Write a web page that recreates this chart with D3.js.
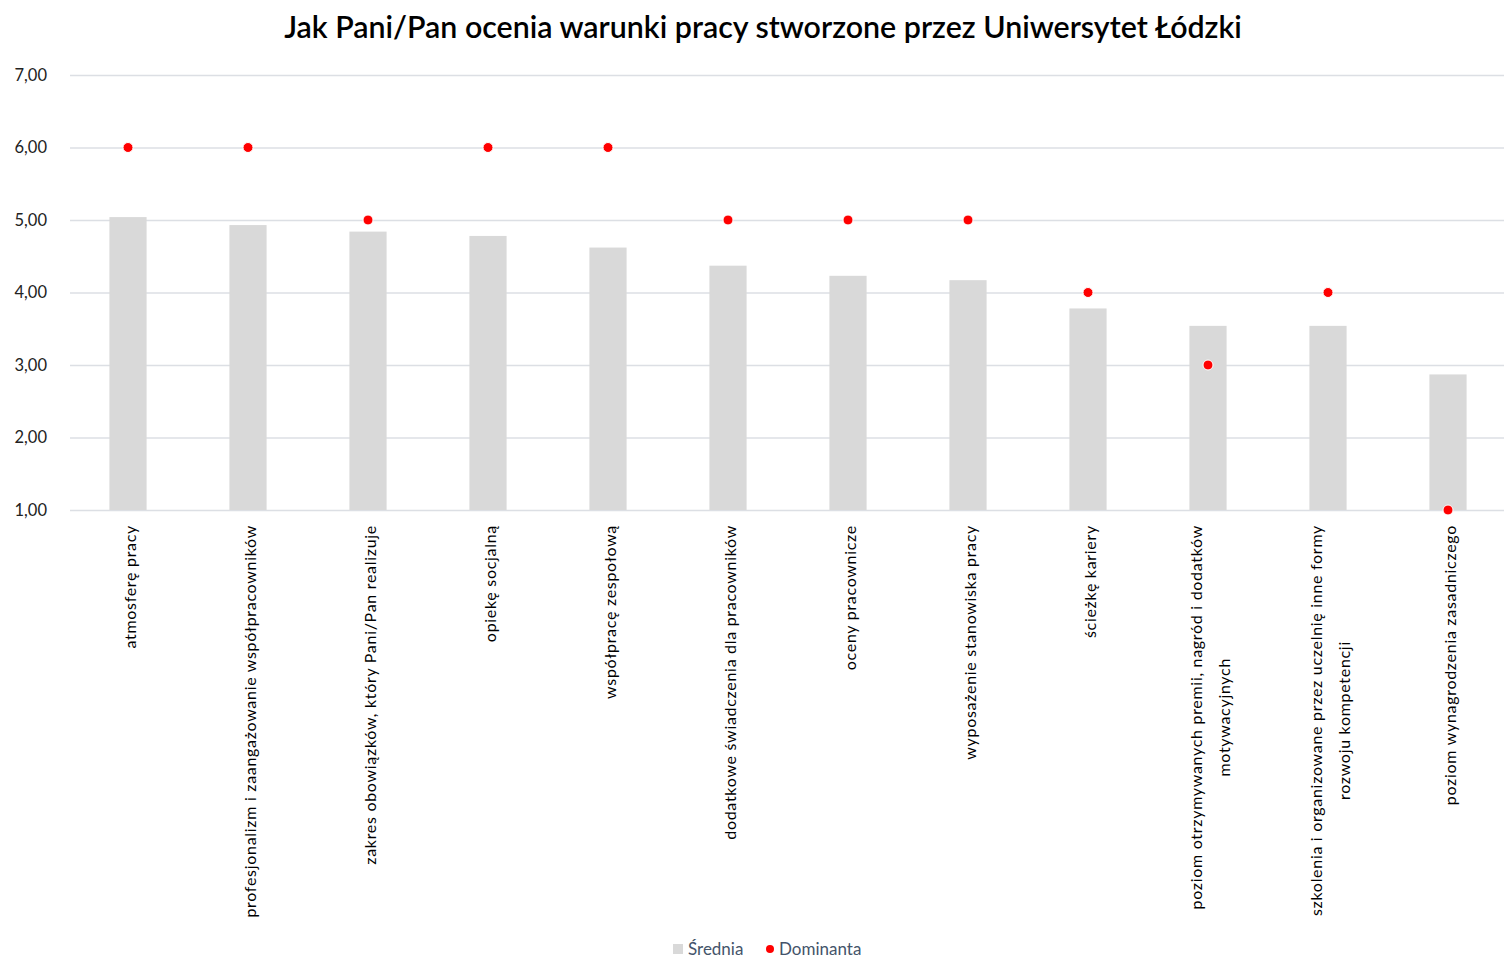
<!DOCTYPE html>
<html><head><meta charset="utf-8">
<script src="https://cdn.jsdelivr.net/npm/d3@7"></script>
<style>
html,body{margin:0;padding:0;background:#fff;}
svg{display:block;font-family:Lato,"Open Sans",sans-serif;}
</style></head>
<body>
<svg id="chart" width="1504" height="959"></svg>
<script>
const title = "Jak Pani/Pan ocenia warunki pracy stworzone przez Uniwersytet Łódzki";
const categories = [
  ["atmosferę pracy"],
  ["profesjonalizm i zaangażowanie współpracowników"],
  ["zakres obowiązków, który Pani/Pan realizuje"],
  ["opiekę socjalną"],
  ["współpracę zespołową"],
  ["dodatkowe świadczenia dla pracowników"],
  ["oceny pracownicze"],
  ["wyposażenie stanowiska pracy"],
  ["ścieżkę kariery"],
  ["poziom otrzymywanych premii, nagród i dodatków", "motywacyjnych"],
  ["szkolenia i organizowane przez uczelnię inne formy", "rozwoju kompetencji"],
  ["poziom wynagrodzenia zasadniczego"]
];
const srednia   = [5.04, 4.93, 4.84, 4.78, 4.62, 4.37, 4.23, 4.17, 3.78, 3.54, 3.54, 2.87];
const dominanta = [6, 6, 5, 6, 6, 5, 5, 5, 4, 3, 4, 1];
const yTicks = [1, 2, 3, 4, 5, 6, 7];
const seriesNames = ["Średnia", "Dominanta"];

const svg = d3.select("#chart");
const ids = categories.map((c, i) => i);
const x = d3.scaleBand().domain(ids).range([68, 1508]).paddingInner(0.69).paddingOuter(0.345);
const y = d3.scaleLinear().domain([1, 7]).range([510, 75]);
const fmt = v => d3.format(".2f")(v).replace(".", ",");

// title
const t = svg.append("text").attr("x", 763).attr("y", 38).attr("text-anchor", "middle")
  .attr("font-size", 29).attr("font-weight", 600).attr("fill", "#000").text(title);
const tw = t.node().getComputedTextLength();
t.attr("font-size", 29 * 958 / tw);

// grid
const yAxis = d3.axisLeft(y).tickValues(yTicks).tickSize(-(1504 - 70)).tickFormat(fmt);
const gy = svg.append("g").attr("transform", "translate(70,0)").call(yAxis);
gy.select(".domain").remove();
gy.selectAll(".tick line").attr("stroke", "#dcdfe4").attr("stroke-width", 1.4);
gy.selectAll(".tick text").attr("x", -23).attr("font-size", 16.5).attr("fill", "#222")
  .attr("font-family", "Lato, sans-serif");

// bars
svg.append("g").selectAll("rect").data(srednia).join("rect")
  .attr("x", (d, i) => x(i)).attr("width", x.bandwidth())
  .attr("y", d => y(d)).attr("height", d => y(1) - y(d))
  .attr("fill", "#d9d9d9");

// x axis labels
const xAxis = d3.axisBottom(x).tickSize(0).tickFormat("");
svg.append("g").attr("transform", "translate(0,510)").call(xAxis).select(".domain").remove();

const lg = svg.append("g");
const labelFont = 16;
categories.forEach((lines, i) => {
  const cx = x(i) + x.bandwidth() / 2 + 3;
  const n = lines.length;
  const g = lg.append("g");
  const texts = lines.map((ln, k) => g.append("text")
    .attr("font-size", labelFont).attr("letter-spacing", 0.7).attr("fill", "#000").text(ln));
  const widths = texts.map(tx => tx.node().getComputedTextLength());
  const maxW = d3.max(widths);
  const lineGap = 28;
  texts.forEach((tx, k) => {
    const lx = cx + (k - (n - 1) / 2) * lineGap + 5;
    const topY = 525 + (maxW - widths[k]) / 2;
    tx.attr("text-anchor", "end")
      .attr("transform", `translate(${lx},${topY}) rotate(-90)`);
  });
});

// dots
svg.append("g").selectAll("circle").data(dominanta).join("circle")
  .attr("cx", (d, i) => x(i) + x.bandwidth() / 2).attr("cy", d => y(d))
  .attr("r", 5).attr("fill", "#ff0000").attr("stroke", "#fff").attr("stroke-width", 1);

// legend
const leg = svg.append("g");
leg.append("rect").attr("x", 673).attr("y", 944).attr("width", 10).attr("height", 10).attr("fill", "#d9d9d9");
leg.append("text").attr("x", 688).attr("y", 955).attr("font-size", 17).attr("fill", "#44546a").text(seriesNames[0]);
leg.append("circle").attr("cx", 770).attr("cy", 949).attr("r", 4).attr("fill", "#ff0000");
leg.append("text").attr("x", 779).attr("y", 955).attr("font-size", 17).attr("fill", "#44546a").text(seriesNames[1]);
</script>
</body></html>
